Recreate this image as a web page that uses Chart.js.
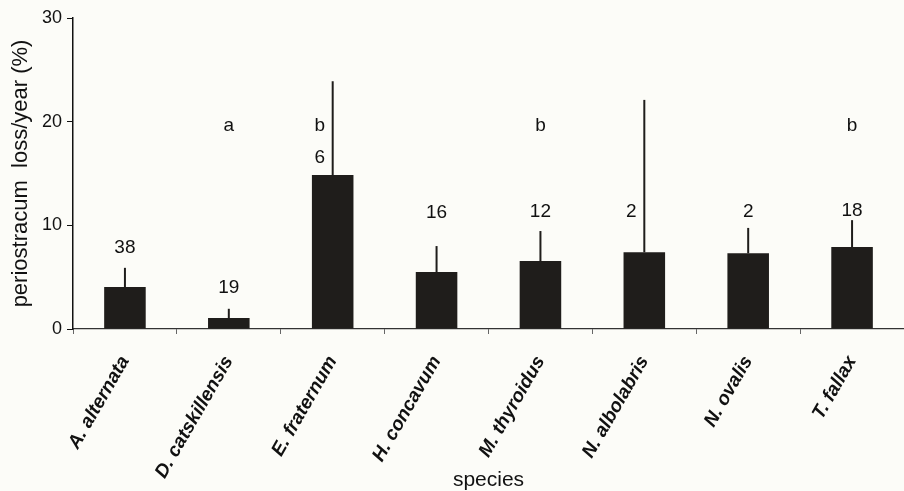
<!DOCTYPE html>
<html>
<head>
<meta charset="utf-8">
<script src="https://cdn.jsdelivr.net/npm/chart.js@4"></script>
<style>
  html, body { margin: 0; padding: 0; background: #fcfcf8; }
  #wrap { width: 904px; height: 491px; }
</style>
</head>
<body>
<div id="wrap"><canvas id="chart"></canvas></div>
<script>
// values
const species = ['A. alternata', 'D. catskillensis', 'E. fraternum', 'H. concavum',
                 'M. thyroidus', 'N. albolabris', 'N. ovalis', 'T. fallax'];
const meanLoss = [4.05, 1.05, 14.85, 5.5, 6.55, 7.4, 7.3, 7.9];
const errUpper = [1.85, 0.9, 9.05, 2.5, 2.9, 14.7, 2.45, 2.6];
const sampleSize = ['38', '19', '6', '16', '12', '2', '2', '18'];
const groupLetter = ['', 'a', 'b', '', 'b', '', '', 'b'];
const yTicks = [0, 10, 20, 30];

Chart.defaults.font.family = '"Liberation Sans", Arial, sans-serif';
Chart.defaults.color = '#111';

// error bars (upper only) + n / letter labels
const annotate = {
  id: 'annotate',
  afterDatasetsDraw(chart, args, opts) {
    const ctx = chart.ctx;
    const y = chart.scales.y;
    const bars = chart.getDatasetMeta(0).data;
    ctx.save();
    ctx.strokeStyle = '#1f1d1b';
    ctx.lineWidth = 2;
    bars.forEach((bar, i) => {
      ctx.beginPath();
      ctx.moveTo(bar.x, bar.y);
      ctx.lineTo(bar.x, y.getPixelForValue(meanLoss[i] + errUpper[i]));
      ctx.stroke();
    });
    ctx.fillStyle = '#111';
    ctx.font = '19px "Liberation Sans", Arial, sans-serif';
    ctx.textAlign = 'center';
    ctx.textBaseline = 'alphabetic';
    bars.forEach((bar, i) => {
      const errTop = meanLoss[i] + errUpper[i];
      // move a label left when the error line runs through it
      const dx = v => (v < errTop ? -opts.dodge : 0);
      const nAt = opts.countAt[i];
      ctx.fillText(sampleSize[i], bar.x + dx(nAt), y.getPixelForValue(nAt));
      if (groupLetter[i]) {
        ctx.fillText(groupLetter[i], bar.x + dx(opts.letterAt), y.getPixelForValue(opts.letterAt));
      }
    });
    ctx.restore();
  }
};

new Chart(document.getElementById('chart'), {
  type: 'bar',
  data: {
    labels: species,
    datasets: [{
      data: meanLoss,
      backgroundColor: '#1f1d1b',
      barPercentage: 0.4,
      categoryPercentage: 1
    }]
  },
  options: {
    responsive: true,
    maintainAspectRatio: false,
    animation: false,
    events: [],
    layout: { padding: { top: 18, right: 0, left: 0, bottom: 0 } },
    plugins: {
      legend: { display: false },
      tooltip: { enabled: false },
      annotate: {
        countAt: [7.33, 3.47, 16.0, 10.7, 10.8, 10.8, 10.8, 10.9],
        letterAt: 19.1,
        dodge: 13
      }
    },
    scales: {
      x: {
        grid: { drawOnChartArea: false, offset: true, tickLength: 5, color: '#666' },
        border: { color: '#333', width: 1.2 },
        ticks: {
          font: { size: 19, style: 'italic', weight: 'bold' },
          minRotation: 60, maxRotation: 60, padding: 18, autoSkip: false
        },
        title: { display: true, text: 'species', font: { size: 21, lineHeight: 1 }, padding: 0 },
        afterFit: s => { s.height = 162; }
      },
      y: {
        min: 0, max: 30,
        afterBuildTicks: s => { s.ticks = yTicks.map(v => ({ value: v })); },
        grid: { drawOnChartArea: false, tickLength: 6, color: '#111' },
        border: { color: '#111', width: 1.5 },
        ticks: { font: { size: 18 }, padding: 5 },
        title: { display: true, text: 'periostracum  loss/year (%)', font: { size: 22 }, padding: { top: 8, bottom: 0 } },
        afterFit: s => { s.width = 73; }
      }
    }
  },
  plugins: [annotate]
});
</script>
</body>
</html>
